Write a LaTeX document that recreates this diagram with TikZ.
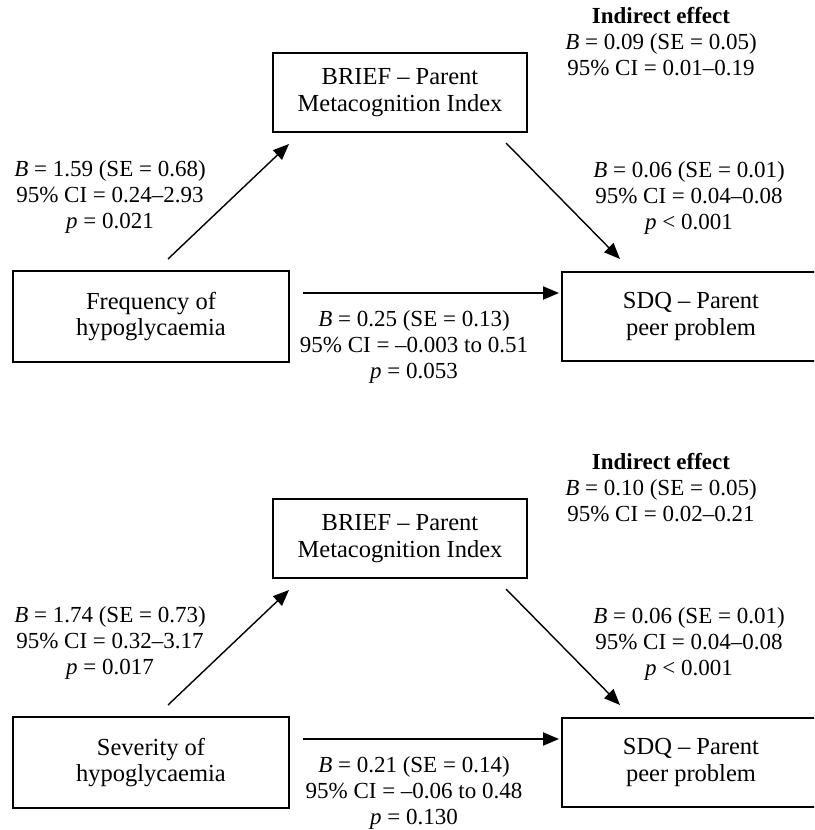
\documentclass[tikz,border=0pt]{standalone}
\usepackage{fontspec}
\setmainfont{Liberation Serif}
\usetikzlibrary{positioning, arrows.meta}

\begin{document}
\begin{tikzpicture}[x=1pt, y=-1pt,
      every node/.style={font=\fontsize{23}{26}\selectfont, align=center},
      box/.style={draw, line width=2pt, inner sep=0pt, minimum height=89pt, font=\fontsize{24.5}{26.5}\selectfont},
      arr/.style={-{Triangle[length=16pt, width=13pt]}, line width=1.4pt},
      lab/.style={inner sep=0pt}]
  \clip (0,0) rectangle (814,830);
  % upper model: frequency
  \node[box, minimum width=254pt, minimum height=79pt] (m1) at (400,92.5) {BRIEF – Parent\\Metacognition Index};
  \node[box, minimum width=276pt, minimum height=91pt] (x1) at (151,316.5) {Frequency of\\hypoglycaemia};
  \node[box, minimum width=258pt, right=271pt of x1] (y1) {SDQ – Parent\\peer problem};
  \draw[arr] ([xshift=17pt, yshift=11pt]x1.north) -- ([xshift=-111pt, yshift=-11pt]m1.south);
  \draw[arr] ([xshift=106pt, yshift=-10pt]m1.south) -- ([xshift=-71pt, yshift=12pt]y1.north);
  \draw[arr, line width=1.9pt] ([xshift=13pt, yshift=23.5pt]x1.east) -- ([xshift=-2pt, yshift=23.5pt]y1.west);
  \node[lab] (ind1) at (661,42) {\textbf{Indirect effect}\\\textit{B} = 0.09 (SE = 0.05)\\95\% CI = 0.01–0.19};
  \node[lab] (a1) at (110,197) {\textit{B} = 1.59 (SE = 0.68)\\95\% CI = 0.24–2.93\\\textit{p} = 0.021};
  \node[lab] (b1) at (689,198) {\textit{B} = 0.06 (SE = 0.01)\\95\% CI = 0.04–0.08\\\textit{p} < 0.001};
  \node[lab] (c1) at (414,347) {\textit{B} = 0.25 (SE = 0.13)\\95\% CI = –0.003 to 0.51\\\textit{p} = 0.053};

  % lower model: severity
  \begin{scope}[yshift=-446pt]
  \node[box, minimum width=254pt, minimum height=79pt] (m2) at (400,92.5) {BRIEF – Parent\\Metacognition Index};
  \node[box, minimum width=276pt, minimum height=91pt] (x2) at (151,316.5) {Severity of\\hypoglycaemia};
  \node[box, minimum width=258pt, right=271pt of x2] (y2) {SDQ – Parent\\peer problem};
  \draw[arr] ([xshift=17pt, yshift=11pt]x2.north) -- ([xshift=-111pt, yshift=-11pt]m2.south);
  \draw[arr] ([xshift=106pt, yshift=-10pt]m2.south) -- ([xshift=-71pt, yshift=12pt]y2.north);
  \draw[arr, line width=1.9pt] ([xshift=13pt, yshift=23.5pt]x2.east) -- ([xshift=-2pt, yshift=23.5pt]y2.west);
  \node[lab] (ind2) at (661,42) {\textbf{Indirect effect}\\\textit{B} = 0.10 (SE = 0.05)\\95\% CI = 0.02–0.21};
  \node[lab] (a2) at (110,197) {\textit{B} = 1.74 (SE = 0.73)\\95\% CI = 0.32–3.17\\\textit{p} = 0.017};
  \node[lab] (b2) at (689,198) {\textit{B} = 0.06 (SE = 0.01)\\95\% CI = 0.04–0.08\\\textit{p} < 0.001};
  \node[lab] (c2) at (414,347) {\textit{B} = 0.21 (SE = 0.14)\\95\% CI = –0.06 to 0.48\\\textit{p} = 0.130};
  \end{scope}
\end{tikzpicture}
\end{document}
